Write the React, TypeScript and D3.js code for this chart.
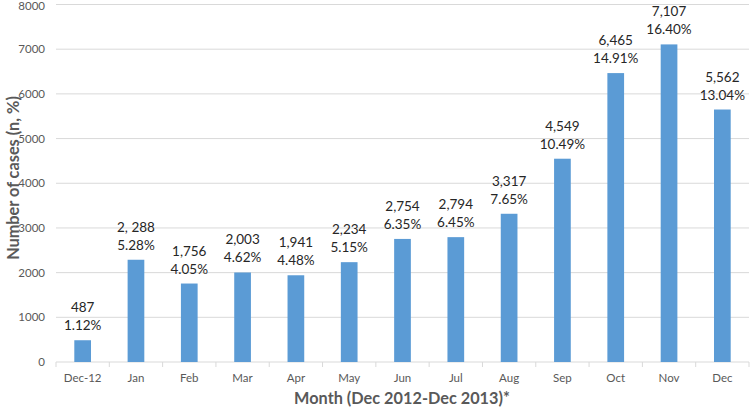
import React from "react";
import * as d3 from "d3";

const categories = ["Dec-12", "Jan", "Feb", "Mar", "Apr", "May", "Jun", "Jul", "Aug", "Sep", "Oct", "Nov", "Dec"];
const barValues = [487, 2288, 1756, 2003, 1941, 2234, 2754, 2794, 3317, 4549, 6465, 7107, 5650];
const countLabels = ["487", "2, 288", "1,756", "2,003", "1,941", "2,234", "2,754", "2,794", "3,317", "4,549", "6,465", "7,107", "5,562"];
const pctLabels = ["1.12%", "5.28%", "4.05%", "4.62%", "4.48%", "5.15%", "6.35%", "6.45%", "7.65%", "10.49%", "14.91%", "16.40%", "13.04%"];
const yTicks = [0, 1000, 2000, 3000, 4000, 5000, 6000, 7000, 8000];

const W = 750, H = 408;
const left = 56, right = 749, top = 4.5, bottom = 362;

export default function App() {
  const x = d3.scaleBand<string>().domain(categories).range([left, right]).paddingInner(0).paddingOuter(0);
  const y = d3.scaleLinear().domain([0, 8000]).range([bottom, top]);
  const bw = 16.7;
  const font = "Lato, 'Open Sans', sans-serif";
  return (
    <svg width={W} height={H} style={{ position: "absolute", left: 0, top: 0 }} fontFamily={font}>
      <rect width={W} height={H} fill="#fff" />
      {yTicks.map((t) => (
        <g key={t}>
          <line x1={left} x2={right} y1={y(t)} y2={y(t)} stroke="#d9d9d9" strokeWidth={1} />
          <text x={45} y={Math.max(y(t), 5.5)} dy="0.35em" textAnchor="end" fontSize={11.5} fill="#595959">{t}</text>
        </g>
      ))}
      {categories.map((c, i) => (
        <line key={"tk" + i} x1={x(c)!} x2={x(c)!} y1={bottom} y2={bottom + 5} stroke="#d9d9d9" />
      ))}
      <line x1={right} x2={right} y1={bottom} y2={bottom + 5} stroke="#d9d9d9" />
      {categories.map((c, i) => {
        const cx = x(c)! + x.bandwidth() / 2;
        const yt = y(barValues[i]);
        return (
          <g key={c}>
            <rect x={cx - bw / 2} y={yt} width={bw} height={bottom - yt} fill="#5b9bd5" />
            <text x={cx} y={yt - 28} textAnchor="middle" fontSize={13.5} fill="#262626">{countLabels[i]}</text>
            <text x={cx} y={yt - 10} textAnchor="middle" fontSize={13.5} fill="#262626">{pctLabels[i]}</text>
            <text x={cx} y={378} dy="0.35em" textAnchor="middle" fontSize={11.5} fill="#595959">{c}</text>
          </g>
        );
      })}
      <text x={402} y={398} dy="0.35em" textAnchor="middle" fontSize={16.3} fontWeight="bold" fill="#595959">Month (Dec 2012-Dec 2013)*</text>
      <text transform={`translate(13,178) rotate(-90)`} dy="0.35em" textAnchor="middle" fontSize={16.3} fontWeight="bold" fill="#595959">Number of cases (n, %)</text>
    </svg>
  );
}
